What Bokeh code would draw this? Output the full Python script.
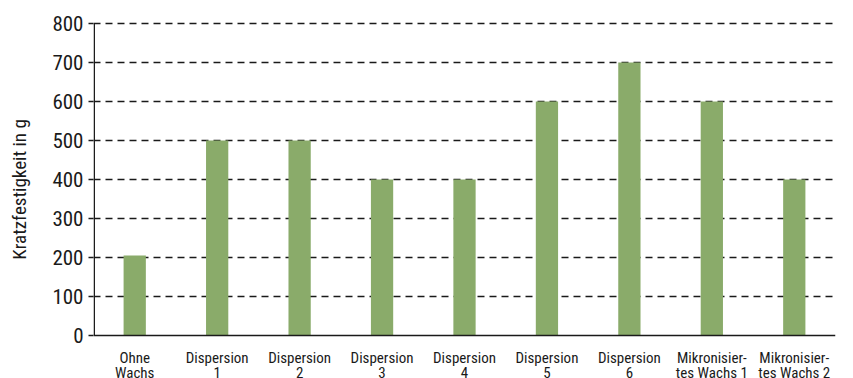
from bokeh.plotting import figure
from bokeh.models import Range1d, FactorRange, FixedTicker
from bokeh.core.properties import value
from bokeh.embed import file_html
from bokeh.resources import INLINE

categories = ["Ohne Wachs", "Dispersion 1", "Dispersion 2", "Dispersion 3", "Dispersion 4",
              "Dispersion 5", "Dispersion 6", "Mikronisiertes Wachs 1", "Mikronisiertes Wachs 2"]
tick_labels = ["Ohne\nWachs", "Dispersion\n1", "Dispersion\n2", "Dispersion\n3", "Dispersion\n4",
               "Dispersion\n5", "Dispersion\n6", "Mikronisier-\ntes Wachs 1", "Mikronisier-\ntes Wachs 2"]
values = [205, 500, 500, 400, 400, 600, 700, 600, 400]
y_ticks = [0, 100, 200, 300, 400, 500, 600, 700, 800]
y_title = "Kratzfestigkeit in g"

FONT = "Roboto Condensed"
INK = "#1a1a1a"

# layout: plot area 312 px high for 0..800, 23 px above, 43 px below for category labels
H, TOP, BOTTOM = 378, 23, 43
AREA = H - TOP - BOTTOM
Y_MAX = 800
y_lo = -BOTTOM / AREA * Y_MAX
y_hi = Y_MAX + TOP / AREA * Y_MAX

p = figure(width=853, height=H, output_backend="svg", toolbar_location=None,
           x_range=FactorRange(factors=categories), y_range=Range1d(y_lo, y_hi),
           x_axis_location=None,
           min_border_left=93, min_border_right=18, min_border_top=0, min_border_bottom=0)

p.vbar(x=categories, top=values, width=0.27, color="#8aab6a", line_color=None)

p.outline_line_color = None
p.background_fill_color = "white"
p.border_fill_color = "white"
p.xgrid.grid_line_color = None
p.ygrid.ticker = FixedTicker(ticks=y_ticks[1:])
p.ygrid.grid_line_color = INK
p.ygrid.grid_line_dash = "7 5"
p.ygrid.grid_line_width = 1.3

# axis lines (x axis at 0, y axis from 0 to 800)
p.segment(x0=[0], x1=[len(categories)], y0=[0], y1=[0], line_color=INK, line_width=1.5)
p.segment(x0=[0.009], x1=[0.009], y0=[0], y1=[Y_MAX], line_color=INK, line_width=1.5)

# category labels under the x axis
p.text(x=categories, y=[0] * len(categories), text=tick_labels, y_offset=13,
       text_font=value(FONT), text_font_size="15px", text_color=INK,
       text_align="center", text_baseline="top", text_line_height=0.86)

p.yaxis.ticker = FixedTicker(ticks=y_ticks)
p.yaxis.axis_label = y_title
p.yaxis.axis_label_text_font = FONT
p.yaxis.axis_label_text_font_style = "normal"
p.yaxis.axis_label_text_font_size = "19px"
p.yaxis.axis_label_text_color = INK
p.yaxis.axis_label_standoff = 18
p.yaxis.major_label_text_font = FONT
p.yaxis.major_label_text_font_size = "21px"
p.yaxis.major_label_text_color = INK
p.yaxis.major_label_standoff = 5
p.yaxis.major_tick_out = 5
p.yaxis.major_tick_in = 0
p.yaxis.minor_tick_out = 0
p.yaxis.minor_tick_in = 0
p.yaxis.axis_line_color = None
p.yaxis.major_tick_line_color = INK
p.yaxis.major_tick_line_width = 1.5

open("out.html", "w").write(file_html(p, INLINE))
